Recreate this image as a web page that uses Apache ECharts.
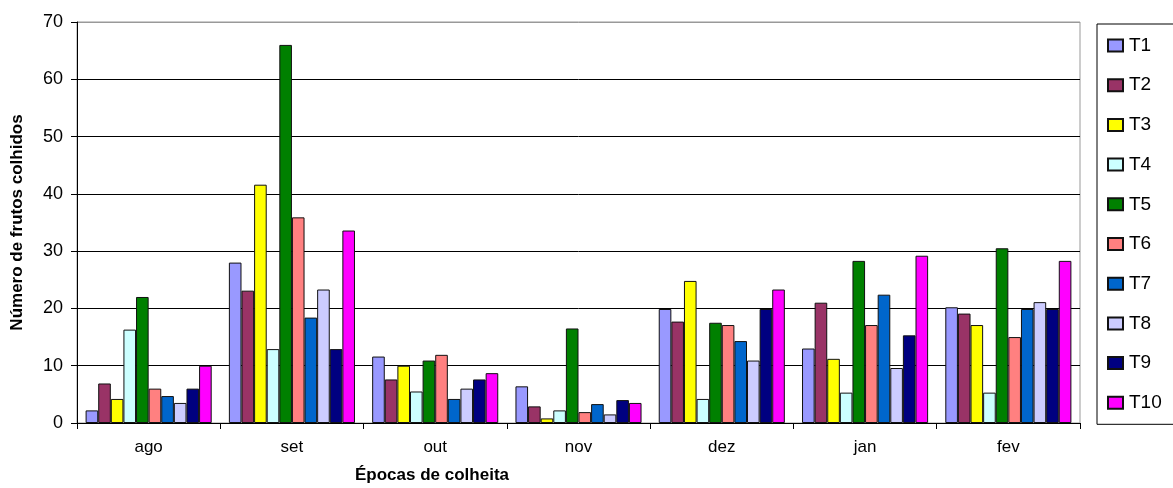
<!DOCTYPE html>
<html>
<head>
<meta charset="utf-8">
<script src="https://cdn.jsdelivr.net/npm/echarts@6/dist/echarts.min.js"></script>
<style>html,body{margin:0;padding:0;background:#fff;}#c{width:1173px;height:488px;}</style>
</head>
<body>
<div id="c"></div>
<script>
var categories = ['ago', 'set', 'out', 'nov', 'dez', 'jan', 'fev'];
var seriesNames = ['T1', 'T2', 'T3', 'T4', 'T5', 'T6', 'T7', 'T8', 'T9', 'T10'];
var T1  = [2.2, 28.0, 11.6, 6.4, 19.9, 13.0, 20.2];
var T2  = [6.9, 23.1, 7.6, 2.9, 17.7, 21.0, 19.1];
var T3  = [4.2, 41.6, 10.0, 0.8, 24.8, 11.2, 17.1];
var T4  = [16.3, 12.9, 5.5, 2.2, 4.2, 5.3, 5.3];
var T5  = [22.0, 66.0, 10.9, 16.5, 17.5, 28.3, 30.5];
var T6  = [6.0, 35.9, 11.9, 1.9, 17.1, 17.1, 15.0];
var T7  = [4.7, 18.4, 4.2, 3.3, 14.3, 22.4, 19.9];
var T8  = [3.5, 23.3, 6.0, 1.5, 10.9, 9.6, 21.1];
var T9  = [6.0, 12.9, 7.6, 4.0, 19.9, 15.3, 19.9];
var T10 = [10.0, 33.6, 8.7, 3.5, 23.3, 29.2, 28.3];
var yTicks = [0, 10, 20, 30, 40, 50, 60, 70];

var seriesValues = [T1, T2, T3, T4, T5, T6, T7, T8, T9, T10];
var colors = ['#9999FF', '#993366', '#FFFF00', '#CCFFFF', '#008000', '#FF8080', '#0066CC', '#CCCCFF', '#000080', '#FF00FF'];
var font = 'Liberation Sans, Arial, sans-serif';

var chart = echarts.init(document.getElementById('c'), null, {renderer: 'canvas'});
var series = seriesNames.map(function (n, i) {
  return {
    name: n,
    type: 'bar',
    data: seriesValues[i],
    barGap: '0%',
    barCategoryGap: '12%',
    itemStyle: {color: colors[i], borderColor: '#111', borderWidth: 1},
    emphasis: {disabled: true},
    animation: false
  };
});

chart.setOption({
  animation: false,
  textStyle: {fontFamily: font},
  title: {
    text: 'Épocas de colheita',
    left: 355,
    top: 467,
    padding: 0,
    textStyle: {fontFamily: font, fontSize: 17, fontWeight: 'bold', color: '#000'}
  },
  legend: {
    orient: 'vertical',
    left: 1097,
    top: 24,
    padding: [12, 60, 12, 10],
    itemWidth: 15,
    itemHeight: 12,
    itemGap: 20.7,
    borderColor: '#000',
    borderWidth: 1,
    icon: 'rect',
    data: seriesNames,
    textStyle: {fontFamily: font, fontSize: 19, color: '#000', padding: [0, 0, 0, 1]}
  },
  grid: {
    left: 77,
    right: 93,
    top: 22,
    bottom: 65,
    show: true,
    borderColor: '#999',
    borderWidth: 1,
    containLabel: false
  },
  xAxis: {
    type: 'category',
    data: categories,
    axisLine: {lineStyle: {color: '#000', width: 1}},
    axisTick: {show: true, length: 6, alignWithLabel: false, lineStyle: {color: '#000'}},
    axisLabel: {fontFamily: font, fontSize: 17, color: '#000', margin: 16},
    splitLine: {show: false}
  },
  yAxis: {
    type: 'value',
    min: yTicks[0],
    max: yTicks[yTicks.length - 1],
    interval: 10,
    name: 'Número de frutos colhidos',
    nameLocation: 'middle',
    nameGap: 51,
    nameTextStyle: {fontFamily: font, fontSize: 17, fontWeight: 'bold', color: '#000'},
    axisLine: {show: true, lineStyle: {color: '#000', width: 1}},
    axisTick: {show: true, length: 6, lineStyle: {color: '#000'}},
    axisLabel: {fontFamily: font, fontSize: 18, color: '#000', margin: 14},
    splitLine: {show: true, lineStyle: {color: ['#000', '#000', '#000', '#000', '#000', '#000', '#000', '#999'], width: 1}}
  },
  series: series
});
</script>
</body>
</html>
